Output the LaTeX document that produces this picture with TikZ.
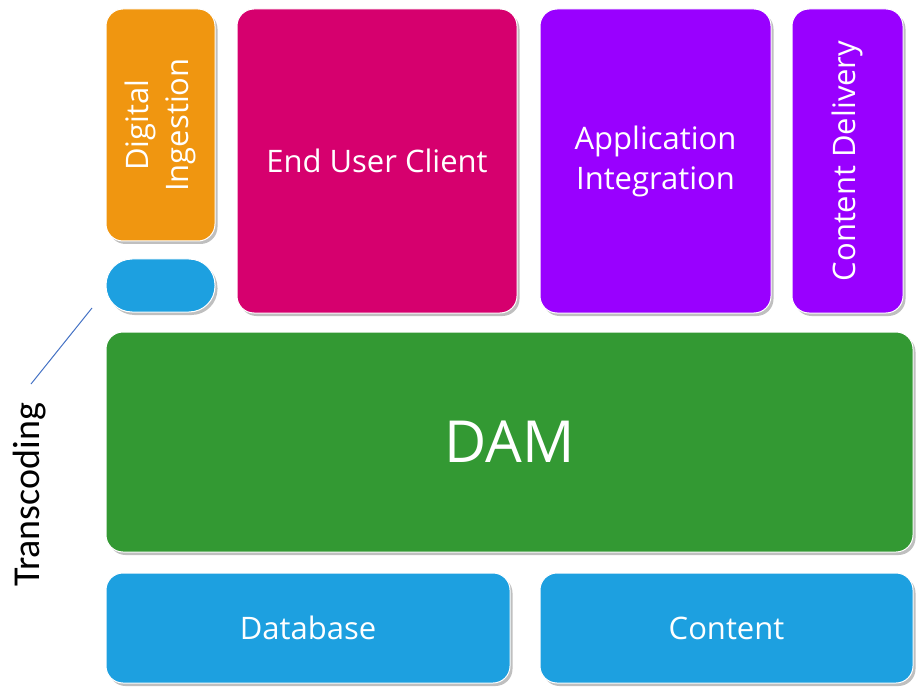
\documentclass[tikz,border=0pt]{standalone}
\usepackage{fontspec}
\setmainfont{Open Sans}
\newfontfamily\calfont{Carlito}
\usetikzlibrary{shadows}
\definecolor{cOrange}{RGB}{240,150,16}
\definecolor{cMagenta}{RGB}{214,0,110}
\definecolor{cPurple}{RGB}{153,0,255}
\definecolor{cBlue}{RGB}{29,160,224}
\definecolor{cGreen}{RGB}{51,153,51}
\definecolor{cLine}{RGB}{68,114,196}
\tikzset{
  box/.style={draw=white, line width=1pt, rounded corners=17pt, inner sep=0pt,
    text=white, align=center, font=\fontsize{31}{40}\selectfont,
    drop shadow={shadow xshift=2.5pt, shadow yshift=-3pt, fill=black, opacity=0.25}},
}
\begin{document}
\begin{tikzpicture}[x=1pt,y=-1pt]
\useasboundingbox (0,0) rectangle (916,687);
\node[box, fill=cOrange, minimum width=109pt, minimum height=232pt] (dig) at (160.5,125)
  {\rotatebox{90}{\begin{tabular}{@{}c@{}}Digital\\Ingestion\end{tabular}}};
\node[box, fill=cBlue, minimum width=109pt, minimum height=53pt, rounded corners=26pt] (trans) at (160.5,285.5) {};
\node[box, fill=cMagenta, minimum width=280pt, minimum height=304pt] (euc) at (377,161) {End User Client};
\node[box, fill=cPurple, minimum width=231pt, minimum height=304pt] (app) at (655.5,161) {Application\\Integration};
\node[box, fill=cPurple, minimum width=111pt, minimum height=304pt] (cd) at (847.5,161)
  {\rotatebox{90}{Content Delivery}};
\node[box, fill=cGreen, minimum width=807pt, minimum height=220pt, font=\fontsize{58}{66}\selectfont] (dam) at (509.5,442) {DAM};
\node[box, fill=cBlue, minimum width=404pt, minimum height=110pt] (db) at (308,628) {Database};
\node[box, fill=cBlue, minimum width=373pt, minimum height=110pt] (content) at (726.5,628) {Content};
\node[rotate=90, font=\calfont\fontsize{38}{44}\selectfont, inner sep=0pt] (tlabel) at (30,495) {Transcoding};
\coordinate (lineA) at (92,308);
\coordinate (lineB) at (31,384);
\draw[cLine, line width=1pt] (lineA) -- (lineB);
\end{tikzpicture}
\end{document}
